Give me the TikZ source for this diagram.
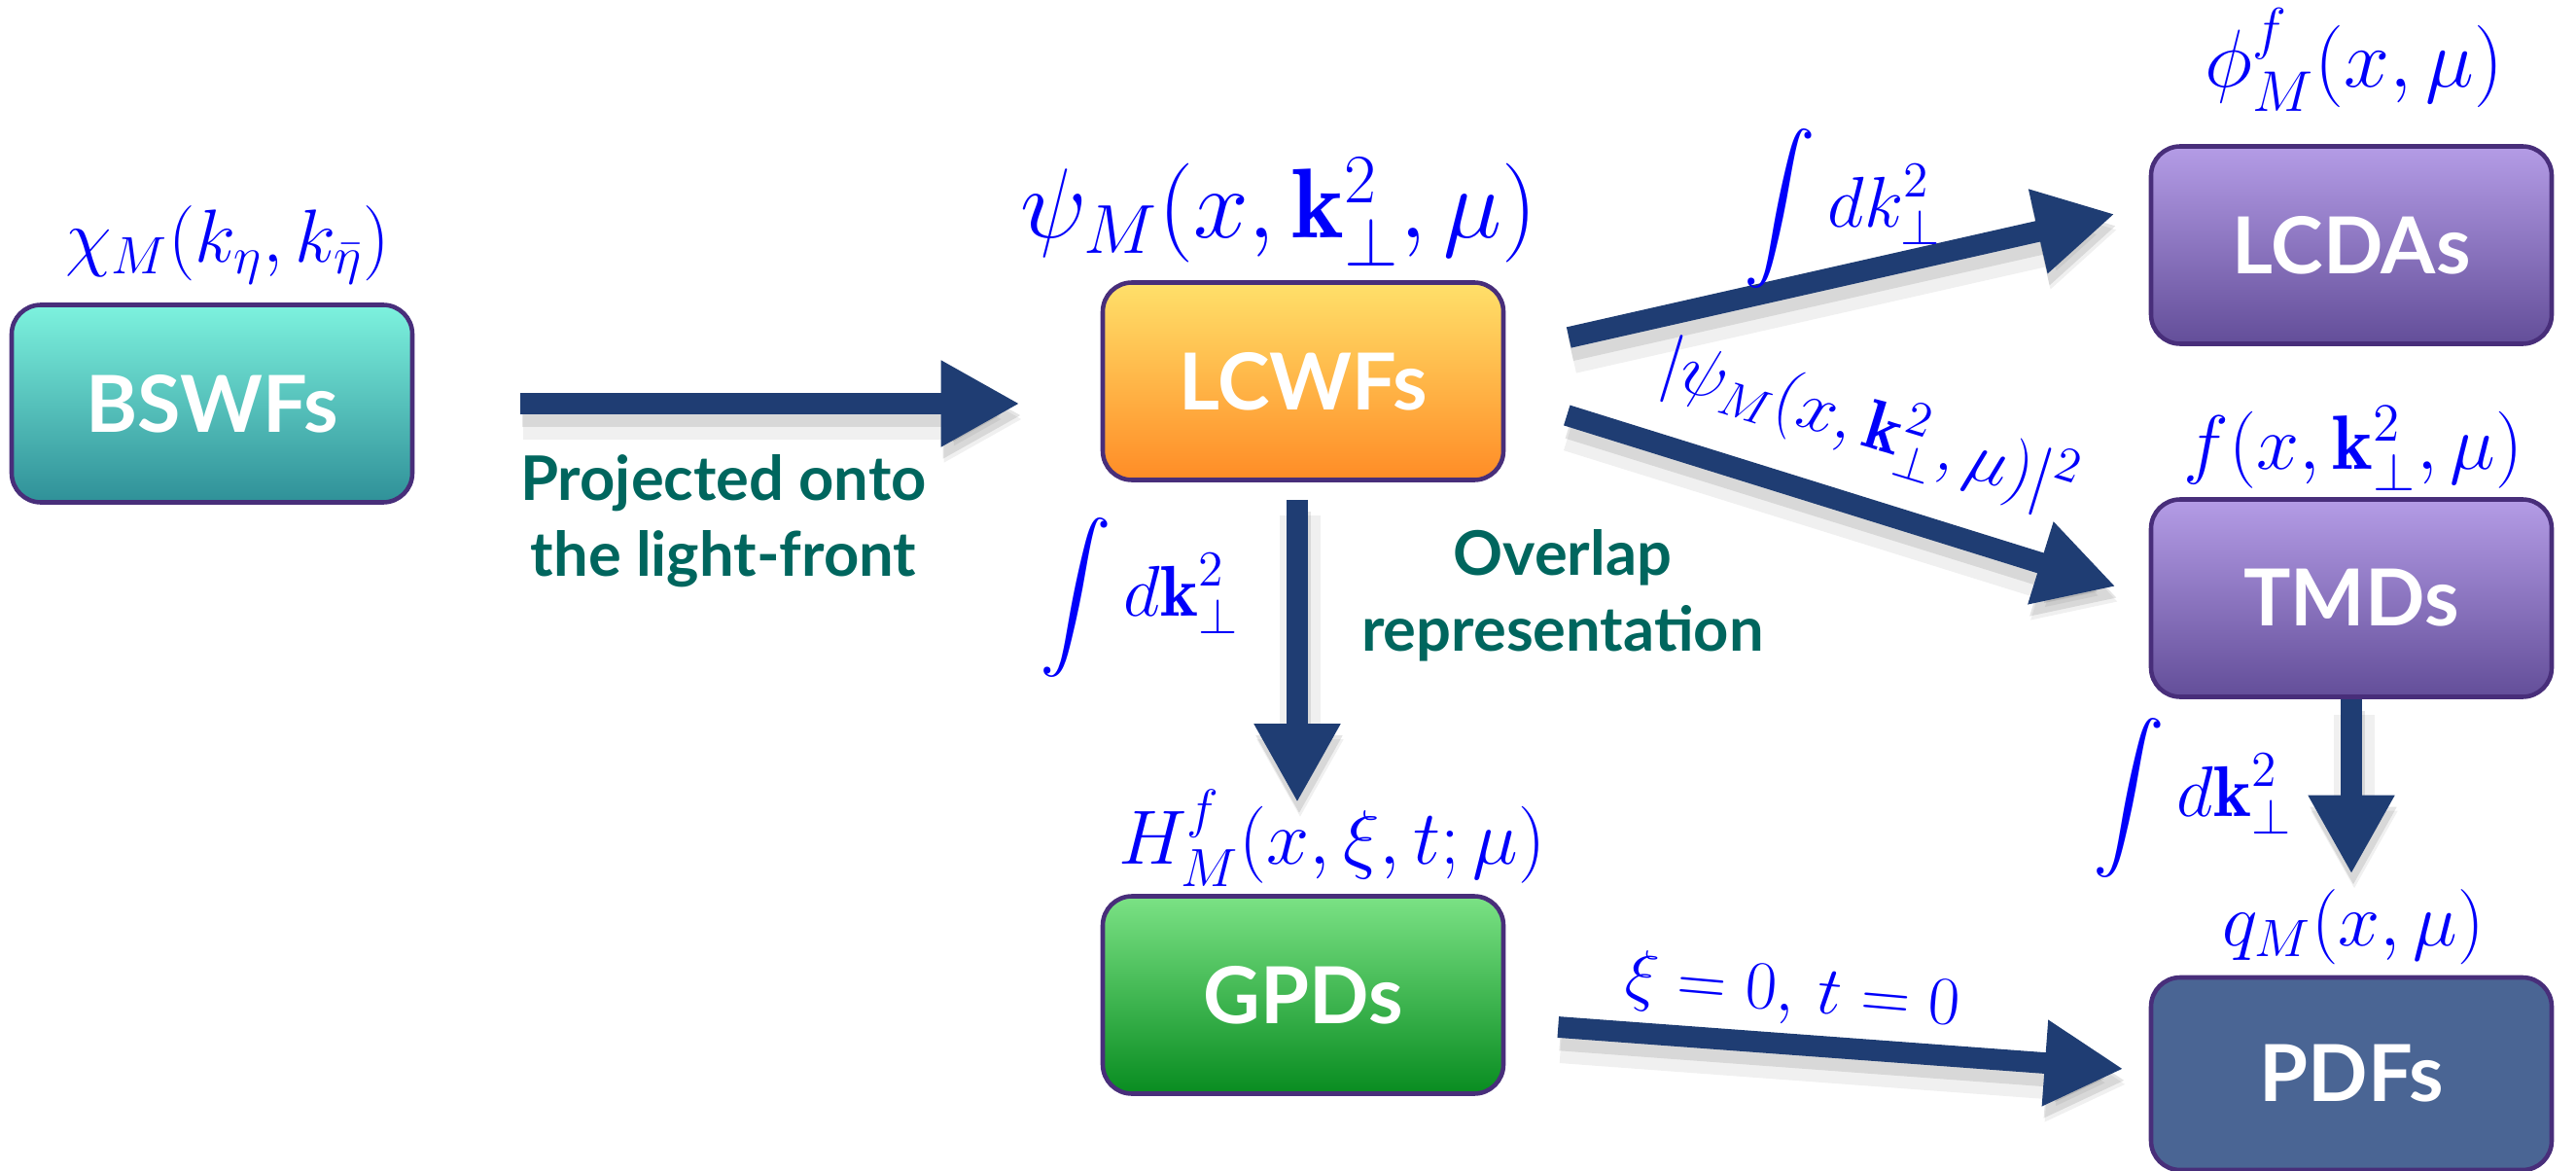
\RequirePackage{fix-cm}
\documentclass[tikz,border=0pt]{standalone}
\usepackage{amsmath,amssymb}
\usepackage{fontspec}
\setsansfont{Lato}
\usepackage{tikz}
\usetikzlibrary{arrows.meta, positioning, calc}
\definecolor{flowblue}{RGB}{31,61,115}
\definecolor{boxedge}{RGB}{72,46,122}
\definecolor{noteteal}{RGB}{0,102,94}
\definecolor{mathblue}{RGB}{0,0,250}
\definecolor{pdfblue}{RGB}{74,101,148}

\begin{document}
\begin{tikzpicture}[
    box/.style={draw=boxedge, line width=1.3pt, rounded corners=0.3cm, minimum width=4.12cm,
        minimum height=2.03cm, inner sep=0pt, text=white, font=\sffamily\bfseries\fontsize{23}{28}\selectfont},
    flow/.style={flowblue, line width=6.2pt, -{Triangle[length=0.81cm, width=0.83cm]},
        preaction={draw=black, opacity=0.06, line width=12pt, transform canvas={shift={(0.03,-0.16)}}},
        preaction={draw=black, opacity=0.10, line width=7pt, transform canvas={shift={(0.02,-0.12)}}}},
    lab/.style={text=mathblue, inner sep=0pt},
    note/.style={text=noteteal, align=center, inner sep=0pt, font=\sffamily\bfseries\fontsize{18}{22.3}\selectfont}]
\useasboundingbox (0,0) rectangle (26.49,-12.04);
\node[box, top color={rgb,255:red,125;green,242;blue,222}, bottom color={rgb,255:red,47;green,144;blue,152}] (bswf) at (2.18,-4.15) {BSWFs};
\node[box, top color={rgb,255:red,255;green,224;blue,106}, bottom color={rgb,255:red,255;green,140;blue,38}] (lcwf) at (13.40,-3.92) {LCWFs};
\node[box, top color={rgb,255:red,123;green,226;blue,133}, bottom color={rgb,255:red,8;green,140;blue,32}] (gpd) at (13.40,-10.23) {GPDs};
\node[box, top color={rgb,255:red,180;green,156;blue,230}, bottom color={rgb,255:red,99;green,78;blue,153}] (lcda) at (24.18,-2.52) {LCDAs};
\node[box, top color={rgb,255:red,180;green,156;blue,230}, bottom color={rgb,255:red,99;green,78;blue,153}] (tmd) at (24.18,-6.15) {TMDs};
\node[box, fill=pdfblue, minimum height=1.98cm] (pdf) at (24.18,-11.04) {PDFs};

\node[lab, anchor=base, font=\fontsize{22}{26}\selectfont] (chilab) at (2.34,-2.70) {$\chi_M(k_\eta, k_{\bar\eta})$};
\node[lab, anchor=base, font=\fontsize{29}{34}\selectfont] (psilab) at (13.15,-2.45) {$\psi_M(x, \mathbf{k}_\perp^2, \mu)$};
\node[lab, anchor=base, font=\fontsize{24}{28}\selectfont] (philab) at (24.21,-0.90) {$\phi^f_M(x, \mu)$};
\node[lab, anchor=base, font=\fontsize{22.5}{27}\selectfont] (flab) at (24.20,-4.82) {$f(x, \mathbf{k}_\perp^2, \mu)$};
\node[lab, anchor=base, font=\fontsize{22.5}{27}\selectfont] (hlab) at (13.70,-8.88) {$H^f_M(x, \xi, t; \mu)$};
\node[lab, anchor=base, font=\fontsize{22}{26}\selectfont] (qlab) at (24.20,-9.72) {$q_M(x, \mu)$};

\draw[flow, shorten <=1.09cm, shorten >=0.83cm] (bswf.east) -- (bswf.east -| lcwf.west);
\draw[flow] ([xshift=0.65cm,yshift=0.45cm]lcwf.east) -- ([xshift=-0.35cm,yshift=0.32cm]lcda.west);
\draw[flow] ([xshift=0.63cm,yshift=-0.35cm]lcwf.east) -- ([xshift=-0.34cm,yshift=0.12cm]tmd.west);
\draw[flow, shorten <=0.18cm, shorten >=0.94cm] ([xshift=-0.06cm]lcwf.south) -- ([xshift=-0.06cm]gpd.north);
\draw[flow, shorten >=1.04cm] (tmd.south) -- (pdf.north);
\draw[flow] ([xshift=0.54cm,yshift=-0.33cm]gpd.east) -- ([xshift=-0.26cm,yshift=0.05cm]pdf.west);

\node[lab, font=\fontsize{21}{25}\selectfont] (intlcda) at (18.95,-2.15) {$\displaystyle\int dk_\perp^2$};
\node[lab, font=\fontsize{20.5}{24}\selectfont, rotate=-17] (psisq) at (19.22,-4.40) {$|\psi_M(x,\mathbf{k}_\perp^2,\mu)|^2$};
\node[lab, font=\fontsize{21}{25}\selectfont] (intgpd) at (11.72,-6.15) {$\displaystyle\int d\mathbf{k}_\perp^2$};
\node[lab, font=\fontsize{21}{25}\selectfont] (intpdf) at (22.55,-8.21) {$\displaystyle\int d\mathbf{k}_\perp^2$};
\node[lab, font=\fontsize{20}{24}\selectfont, rotate=-5] (xilab) at (18.44,-10.22) {$\xi=0,\, t=0$};

\node[note] (proj) at (7.44,-5.36) {Projected onto\\the light-front};
\node[note] (overlap) at (16.07,-6.12) {Overlap\\representation};
\end{tikzpicture}
\end{document}
